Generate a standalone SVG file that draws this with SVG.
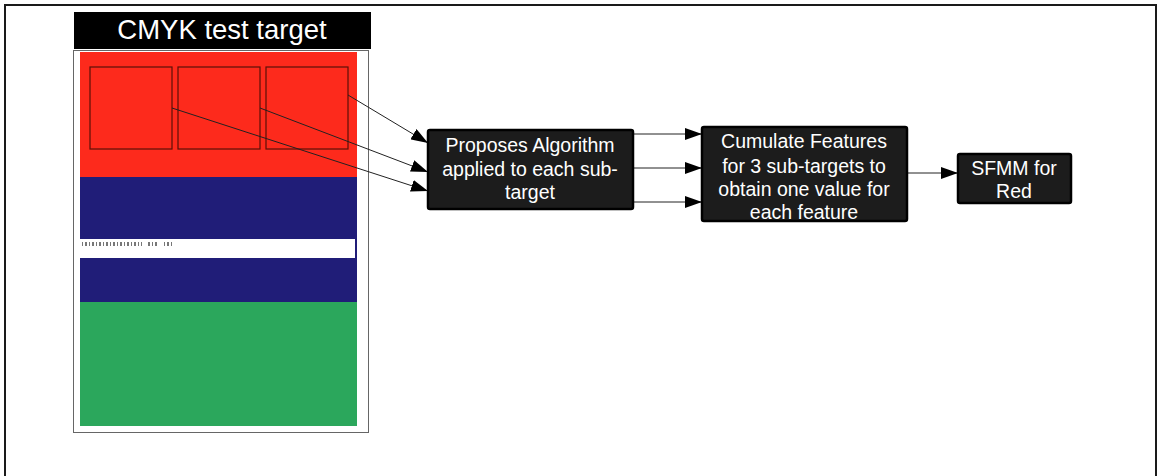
<svg xmlns="http://www.w3.org/2000/svg" width="1157" height="476" viewBox="0 0 1157 476">
  <style>
    .box { fill: #1c1c1c; stroke: #000; stroke-width: 2.5; }
    .lbl { fill: #fff; font-family: "Liberation Sans", Arial, sans-serif; font-size: 19.5px; text-anchor: middle; }
    .conn { stroke: #222; stroke-width: 1; fill: none; marker-end: url(#arrow); }
    .sub { fill: none; stroke: #5a1208; stroke-width: 1.2; }
  </style>
  <defs>
    <marker id="arrow" viewBox="0 0 17 12" refX="17" refY="6" markerWidth="17" markerHeight="12" markerUnits="userSpaceOnUse" orient="auto">
      <path d="M0,0 L17,6 L0,12 Z" fill="#000"/>
    </marker>
  </defs>

  <rect width="1157" height="476" fill="#fff"/>
  <!-- page frame -->
  <rect x="5" y="5" width="1151" height="480" fill="none" stroke="#1a1a1a" stroke-width="2"/>

  <!-- test target sheet -->
  <g id="target">
    <rect x="74" y="12" width="297" height="37" fill="#000"/>
    <text x="222" y="39" fill="#fff" font-family="'Liberation Sans', Arial, sans-serif" font-size="27.5" text-anchor="middle">CMYK test target</text>
    <rect x="73.5" y="50.5" width="295" height="382" fill="#fff" stroke="#666" stroke-width="1"/>
    <rect x="80" y="52" width="277" height="125" fill="#fd2a1c"/>
    <rect x="80" y="177" width="277" height="125" fill="#201d78"/>
    <rect x="80" y="239" width="275" height="19" fill="#fff"/>
    <g fill="#777">
      <rect x="82" y="242" width="1" height="4"/><rect x="85" y="242" width="2" height="4"/>
      <rect x="89" y="242" width="1" height="4"/><rect x="92" y="242" width="2" height="4"/>
      <rect x="96" y="242" width="1" height="4"/><rect x="99" y="242" width="2" height="4"/>
      <rect x="103" y="242" width="1" height="4"/><rect x="106" y="242" width="2" height="4"/>
      <rect x="110" y="242" width="1" height="4"/><rect x="113" y="242" width="2" height="4"/>
      <rect x="117" y="242" width="1" height="4"/><rect x="120" y="242" width="2" height="4"/>
      <rect x="124" y="242" width="1" height="4"/><rect x="127" y="242" width="2" height="4"/>
      <rect x="131" y="242" width="1" height="4"/><rect x="134" y="242" width="2" height="4"/>
      <rect x="138" y="242" width="1" height="4"/><rect x="141" y="242" width="1" height="4"/>
      <rect x="148" y="242" width="2" height="4"/><rect x="152" y="242" width="1" height="4"/>
      <rect x="155" y="242" width="2" height="4"/><rect x="164" y="242" width="1" height="4"/>
      <rect x="167" y="242" width="2" height="4"/><rect x="171" y="242" width="1" height="4"/>
    </g>
    <rect x="80" y="302" width="277" height="124" fill="#2ba75c"/>
    <rect class="sub" x="90" y="67" width="82" height="82"/>
    <rect class="sub" x="178" y="67" width="82" height="82"/>
    <rect class="sub" x="266" y="67" width="82" height="82"/>
  </g>

  <!-- connectors -->
  <g id="connectors">
    <line class="conn" x1="348" y1="95" x2="428" y2="143"/>
    <line class="conn" x1="260" y1="108" x2="428" y2="172"/>
    <line class="conn" x1="172" y1="108" x2="428" y2="191"/>
    <line class="conn" x1="633" y1="134" x2="702" y2="134"/>
    <line class="conn" x1="633" y1="168" x2="702" y2="168"/>
    <line class="conn" x1="633" y1="202" x2="702" y2="202"/>
    <line class="conn" x1="907" y1="173" x2="958" y2="173"/>
  </g>

  <g id="algorithm">
    <rect class="box" x="428" y="130" width="205" height="79" rx="2"/>
    <text class="lbl" x="530" y="152">Proposes Algorithm</text>
    <text class="lbl" x="530" y="176">applied to each sub-</text>
    <text class="lbl" x="530" y="199">target</text>
  </g>

  <g id="cumulate">
    <rect class="box" x="702" y="127" width="205" height="94" rx="2"/>
    <text class="lbl" x="804" y="148">Cumulate Features</text>
    <text class="lbl" x="804" y="173">for 3 sub-targets to</text>
    <text class="lbl" x="804" y="196">obtain one value for</text>
    <text class="lbl" x="804" y="219">each feature</text>
  </g>

  <g id="sfmm">
    <rect class="box" x="958" y="154" width="113" height="49" rx="2"/>
    <text class="lbl" x="1014" y="175">SFMM for</text>
    <text class="lbl" x="1014" y="198">Red</text>
  </g>
</svg>
